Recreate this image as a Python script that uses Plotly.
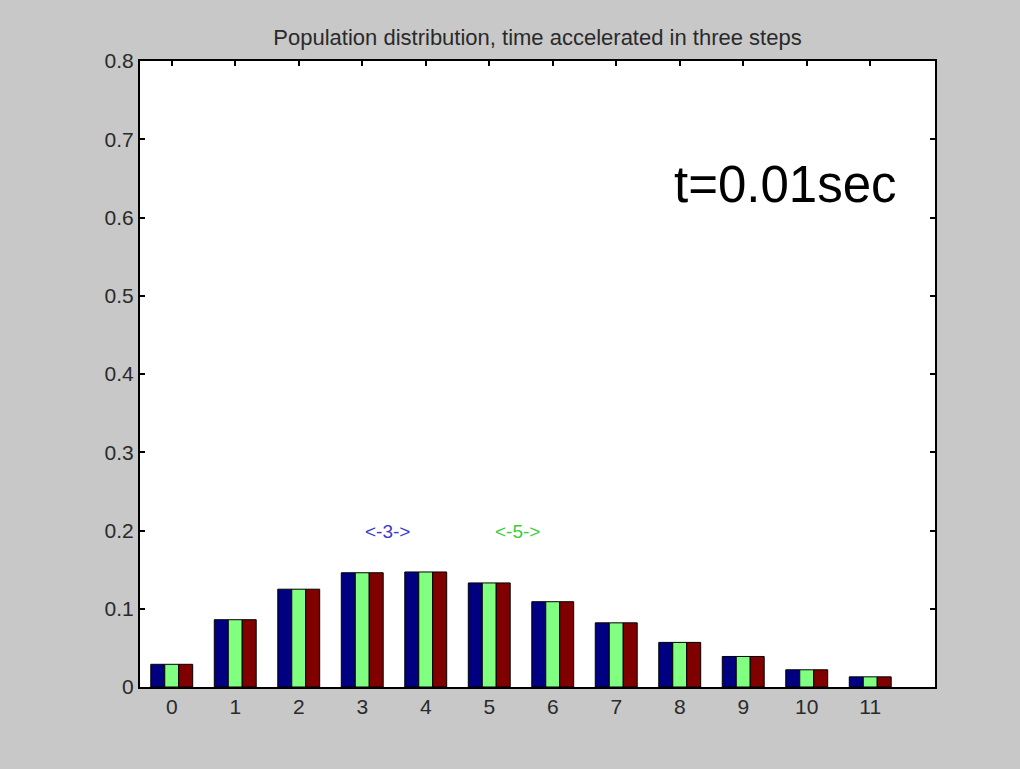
import plotly.graph_objects as go

# ---- data ----
categories = list(range(12))
pop_blue = [0.029, 0.086, 0.125, 0.146, 0.147, 0.133, 0.109, 0.082, 0.057, 0.039, 0.022, 0.013]
pop_green = [0.029, 0.086, 0.125, 0.146, 0.147, 0.133, 0.109, 0.082, 0.057, 0.039, 0.022, 0.013]
pop_red = [0.029, 0.086, 0.125, 0.146, 0.147, 0.133, 0.109, 0.082, 0.057, 0.039, 0.022, 0.013]
y_ticks = [0, 0.1, 0.2, 0.3, 0.4, 0.5, 0.6, 0.7, 0.8]
y_tick_labels = ["0", "0.1", "0.2", "0.3", "0.4", "0.5", "0.6", "0.7", "0.8"]
x_tick_labels = [str(c) for c in categories]
title_text = "Population distribution, time accelerated in three steps"
time_label = "t=0.01sec"
marker_labels = [("<-3->", 3.4, "#3a3acc"), ("<-5->", 5.44, "#3ccc3c")]

FONT = "Liberation Sans, Arial, sans-serif"
TXT = "#2a2a2a"

fig = go.Figure()
series = [
    (pop_blue, "#000080", -0.33),
    (pop_green, "#80ff80", -0.11),
    (pop_red, "#800000", 0.11),
]
for vals, col, off in series:
    fig.add_trace(go.Bar(
        x=categories, y=vals,
        offset=off, width=0.22,
        marker=dict(color=col, line=dict(color="black", width=1)),
        showlegend=False, hoverinfo="skip",
    ))

for txt, xpos, col in marker_labels:
    fig.add_annotation(x=xpos, y=0.199, xref="x", yref="y", text=txt,
                       showarrow=False, font=dict(family=FONT, size=19, color=col))

fig.add_annotation(x=9.66, y=0.642, xref="x", yref="y", text=time_label,
                   showarrow=False, font=dict(family=FONT, size=51, color="black"))

fig.update_layout(
    width=1020, height=769,
    margin=dict(l=140, r=85, t=61, b=82),
    paper_bgcolor="#c8c8c8",
    plot_bgcolor="white",
    barmode="overlay",
    title=dict(text=title_text, x=0.5, xref="paper", y=1 - 37 / 769, yref="container",
               xanchor="center", yanchor="middle",
               font=dict(family=FONT, size=22, color=TXT)),
    font=dict(family=FONT, size=21, color=TXT),
)
fig.update_xaxes(
    range=[-0.5, 12.02],
    tickmode="array", tickvals=categories, ticktext=x_tick_labels,
    ticks="inside", ticklen=5, tickwidth=2, tickcolor="black",
    showline=True, linecolor="black", linewidth=2, mirror="ticks",
    showgrid=False, zeroline=False, layer="below traces",
    tickfont=dict(family=FONT, size=21, color=TXT),
)
fig.update_yaxes(
    range=[0, 0.8],
    tickmode="array", tickvals=y_ticks, ticktext=y_tick_labels,
    ticks="inside", ticklen=5, tickwidth=2, tickcolor="black",
    showline=True, linecolor="black", linewidth=2, mirror="ticks",
    showgrid=False, zeroline=False,
    tickfont=dict(family=FONT, size=21, color=TXT),
)

fig.write_html("out.html", config={"displayModeBar": False},
               post_script="document.body.style.margin='0';document.body.style.overflow='hidden';")
